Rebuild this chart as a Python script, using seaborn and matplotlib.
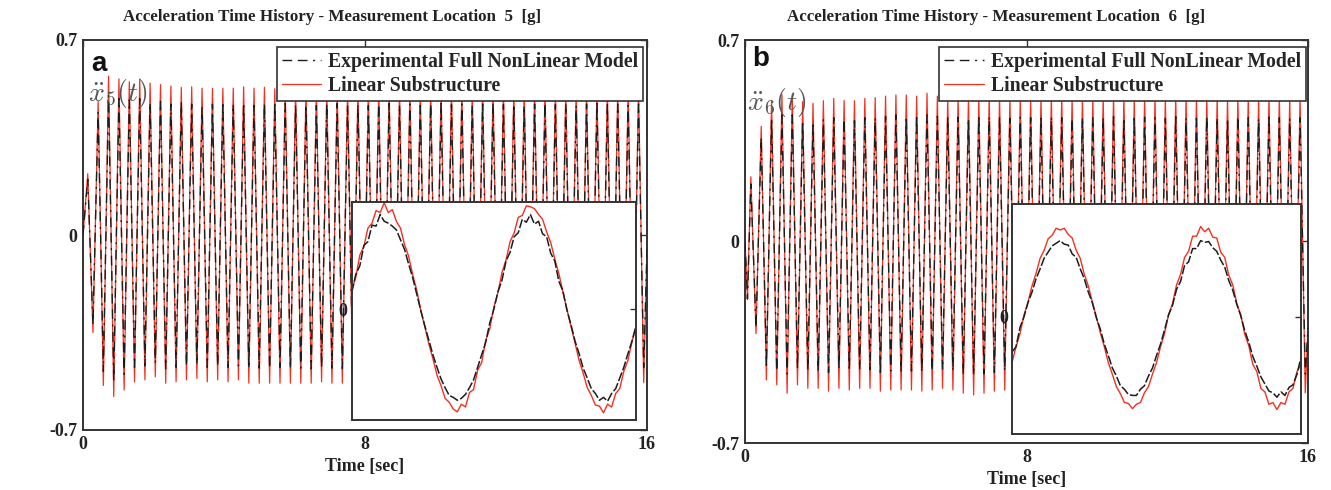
import numpy as np
import matplotlib
matplotlib.use("Agg")
import matplotlib.pyplot as plt
from matplotlib.lines import Line2D
import seaborn as sns

# ---------------- data ----------------
time_ticks = [0, 8, 16]
y_ticks = [-0.7, 0, 0.7]
legend_labels = ["Experimental Full NonLinear Model", "Linear Substructure"]
titles = ["Acceleration Time History - Measurement Location  5  [g]",
          "Acceleration Time History - Measurement Location  6  [g]"]

# panel a: time of first extremum, half period (s)
first_ext_a = 0.135
half_period_a = 0.1474
red_pk_a = [0.22, 0.48, 0.57, 0.56, 0.55, 0.56, 0.545, 0.54, 0.535, 0.53,
            0.532, 0.527, 0.527, 0.527, 0.527, 0.532, 0.527, 0.53, 0.525, 0.53,
            0.527, 0.53, 0.525, 0.528, 0.53, 0.526, 0.53, 0.527, 0.53, 0.528,
            0.525, 0.53, 0.527, 0.53, 0.526, 0.53, 0.528, 0.525, 0.53, 0.527,
            0.53, 0.526, 0.53, 0.528, 0.527, 0.53, 0.526, 0.53, 0.528, 0.525,
            0.53, 0.527, 0.53, 0.528]
red_tr_a = [-0.35, -0.54, -0.58, -0.556, -0.527, -0.52, -0.509, -0.532, -0.527, -0.52,
            -0.515, -0.527, -0.52, -0.527, -0.52, -0.532, -0.532, -0.532, -0.532, -0.532,
            -0.532, -0.532, -0.527, -0.532, -0.532, -0.53, -0.528, -0.532, -0.53, -0.527,
            -0.532, -0.53, -0.528, -0.532, -0.53, -0.527, -0.532, -0.53, -0.528, -0.532,
            -0.53, -0.527, -0.532, -0.53, -0.528, -0.532, -0.53, -0.527, -0.532, -0.53,
            -0.528, -0.532, -0.53, -0.53]
blk_pk_a = [0.20, 0.44, 0.50, 0.49, 0.485, 0.49, 0.475, 0.48, 0.47, 0.475,
            0.47, 0.465, 0.47, 0.468, 0.47, 0.475, 0.465, 0.47, 0.468, 0.472,
            0.47, 0.468, 0.465, 0.47, 0.472, 0.468, 0.47, 0.465, 0.47, 0.472,
            0.468, 0.47, 0.465, 0.47, 0.472, 0.468, 0.47, 0.465, 0.47, 0.472,
            0.468, 0.47, 0.465, 0.47, 0.472, 0.468, 0.47, 0.465, 0.47, 0.472,
            0.468, 0.47, 0.465, 0.47]
blk_tr_a = [-0.32, -0.49, -0.52, -0.5, -0.475, -0.47, -0.46, -0.48, -0.475, -0.47,
            -0.465, -0.475, -0.47, -0.475, -0.47, -0.48, -0.478, -0.48, -0.475, -0.48,
            -0.478, -0.48, -0.475, -0.478, -0.48, -0.476, -0.475, -0.48, -0.478, -0.475,
            -0.48, -0.478, -0.475, -0.48, -0.478, -0.475, -0.48, -0.478, -0.475, -0.48,
            -0.478, -0.475, -0.48, -0.478, -0.475, -0.48, -0.478, -0.475, -0.48, -0.478,
            -0.475, -0.48, -0.478, -0.476]
lead_t_a, lead_y_a = [0.0], [0.0]
tail_t_a, tail_y_a = [16.0], [-0.05]

# panel b
first_ext_b = 0.166
half_period_b = 0.14725
red_pk_b = [0.225, 0.40, 0.49, 0.51, 0.51, 0.486, 0.48, 0.489, 0.497, 0.49,
            0.489, 0.497, 0.50, 0.505, 0.509, 0.509, 0.505, 0.515, 0.505, 0.50,
            0.505, 0.502, 0.50, 0.505, 0.503, 0.50, 0.505, 0.502, 0.50, 0.505,
            0.503, 0.50, 0.505, 0.502, 0.50, 0.505, 0.503, 0.50, 0.505, 0.502,
            0.50, 0.505, 0.503, 0.50, 0.505, 0.502, 0.50, 0.505, 0.503, 0.50,
            0.505, 0.502, 0.50, 0.505]
red_tr_b = [-0.32, -0.481, -0.498, -0.527, -0.498, -0.51, -0.51, -0.52, -0.51, -0.516,
            -0.51, -0.51, -0.52, -0.516, -0.516, -0.516, -0.52, -0.516, -0.51, -0.516,
            -0.527, -0.533, -0.527, -0.52, -0.516, -0.52, -0.518, -0.515, -0.52, -0.518,
            -0.515, -0.52, -0.518, -0.515, -0.52, -0.518, -0.515, -0.52, -0.518, -0.515,
            -0.52, -0.518, -0.515, -0.52, -0.518, -0.515, -0.52, -0.518, -0.515, -0.52,
            -0.518, -0.515, -0.52, -0.526]
blk_pk_b = [0.20, 0.36, 0.43, 0.44, 0.44, 0.42, 0.415, 0.425, 0.43, 0.425,
            0.42, 0.43, 0.43, 0.435, 0.44, 0.435, 0.43, 0.44, 0.435, 0.43,
            0.432, 0.428, 0.43, 0.434, 0.43, 0.428, 0.432, 0.43, 0.428, 0.434,
            0.43, 0.428, 0.432, 0.43, 0.428, 0.434, 0.43, 0.428, 0.432, 0.43,
            0.428, 0.434, 0.43, 0.428, 0.432, 0.43, 0.428, 0.434, 0.43, 0.428,
            0.432, 0.43, 0.428, 0.43]
blk_tr_b = [-0.30, -0.43, -0.45, -0.46, -0.44, -0.445, -0.45, -0.455, -0.445, -0.45,
            -0.445, -0.445, -0.455, -0.45, -0.45, -0.45, -0.455, -0.45, -0.445, -0.45,
            -0.46, -0.465, -0.46, -0.455, -0.45, -0.455, -0.452, -0.45, -0.455, -0.452,
            -0.45, -0.455, -0.452, -0.45, -0.455, -0.452, -0.45, -0.455, -0.452, -0.45,
            -0.455, -0.452, -0.45, -0.455, -0.452, -0.45, -0.455, -0.452, -0.45, -0.455,
            -0.452, -0.45, -0.455, -0.46]
lead_t_b, lead_y_b = [0.0, 0.07], [0.0, -0.2]
tail_t_b, tail_y_b = [16.0], [-0.3]

# insets (zoomed window, two cycles)
inset_red_a = [0.10, 0.165, 0.28, 0.325, 0.42, 0.445, 0.51, 0.50, 0.55, 0.50,
               0.515, 0.455, 0.42, 0.335, 0.275, 0.18, 0.10, -0.005, -0.09, -0.18,
               -0.255, -0.34, -0.395, -0.46, -0.48, -0.515, -0.53, -0.49, -0.505, -0.43,
               -0.415, -0.315, -0.275, -0.16, -0.10, 0.01, 0.085, 0.19, 0.255, 0.35,
               0.395, 0.475, 0.485, 0.535, 0.53, 0.52, 0.49, 0.465, 0.40, 0.345,
               0.26, 0.185, 0.09, 0.0, -0.09, -0.175, -0.265, -0.33, -0.405, -0.445,
               -0.495, -0.50, -0.535, -0.49, -0.505, -0.435, -0.41, -0.32, -0.265, -0.17,
               -0.09]
inset_blk_a = [0.085, 0.18, 0.225, 0.33, 0.35, 0.435, 0.43, 0.49, 0.455, 0.445,
               0.43, 0.41, 0.36, 0.31, 0.235, 0.165, 0.08, -0.005, -0.085, -0.16,
               -0.235, -0.30, -0.36, -0.405, -0.445, -0.455, -0.47, -0.46, -0.44, -0.405,
               -0.365, -0.30, -0.235, -0.17, -0.07, 0.0, 0.09, 0.15, 0.25, 0.295,
               0.375, 0.395, 0.465, 0.45, 0.49, 0.44, 0.455, 0.39, 0.375, 0.29,
               0.25, 0.145, 0.095, -0.005, -0.08, -0.165, -0.23, -0.305, -0.355, -0.41,
               -0.435, -0.47, -0.455, -0.475, -0.435, -0.41, -0.355, -0.30, -0.23, -0.165,
               -0.085]
inset_ylim_a = (-0.572, 0.556)

inset_red_b = [-0.26, -0.17, -0.095, 0.01, 0.085, 0.175, 0.245, 0.33, 0.375, 0.44,
               0.46, 0.50, 0.49, 0.50, 0.465, 0.445, 0.375, 0.33, 0.24, 0.175,
               0.085, 0.0, -0.09, -0.17, -0.26, -0.325, -0.395, -0.435, -0.485, -0.49,
               -0.52, -0.495, -0.485, -0.43, -0.395, -0.325, -0.26, -0.17, -0.095, 0.01,
               0.075, 0.18, 0.24, 0.335, 0.37, 0.455, 0.455, 0.51, 0.48, 0.50,
               0.45, 0.445, 0.365, 0.335, 0.235, 0.18, 0.075, 0.01, -0.1, -0.165,
               -0.27, -0.31, -0.405, -0.425, -0.495, -0.485, -0.525, -0.485, -0.495, -0.425,
               -0.405, -0.31, -0.27]
inset_blk_b = [-0.20, -0.17, -0.06, 0.0, 0.08, 0.14, 0.215, 0.27, 0.33, 0.365,
               0.40, 0.415, 0.43, 0.41, 0.405, 0.355, 0.335, 0.27, 0.215, 0.14,
               0.08, -0.005, -0.07, -0.155, -0.22, -0.29, -0.335, -0.39, -0.41, -0.44,
               -0.445, -0.445, -0.41, -0.39, -0.335, -0.29, -0.22, -0.155, -0.075, 0.01,
               0.065, 0.155, 0.2, 0.29, 0.31, 0.385, 0.385, 0.43, 0.42, 0.425,
               0.39, 0.37, 0.32, 0.28, 0.205, 0.15, 0.07, 0.005, -0.08, -0.145,
               -0.225, -0.28, -0.34, -0.38, -0.42, -0.43, -0.455, -0.425, -0.445, -0.40,
               -0.385, -0.325, -0.23]
inset_ylim_b = (-0.663, 0.637)

# ---------------- styling ----------------
sns.set_theme(style="white")
plt.rcParams["font.family"] = ["Liberation Serif", "DejaVu Serif"]
plt.rcParams["mathtext.fontset"] = "cm"

RED = "#f4301f"
BLK = "#1c1c1c"
EDGE = "#333333"
black_ls = (0, (7, 4, 7, 4, 1.5, 4))

fig = plt.figure(figsize=(13.31, 4.9), dpi=100)
W, H = 1331.0, 490.0


def rect(x0, y0, x1, y1):
    return [x0 / W, 1 - y1 / H, (x1 - x0) / W, (y1 - y0) / H]


def build(first, half, pk, tr, lead_t, lead_y, tail_t, tail_y):
    n = len(pk) + len(tr)
    ext = np.empty(n)
    ext[0::2] = pk
    ext[1::2] = tr
    t = first + half * np.arange(n)
    return (np.concatenate([lead_t, t, tail_t]),
            np.concatenate([lead_y, ext, tail_y]))


def style_spines(ax, lw=1.4):
    for s in ax.spines.values():
        s.set_visible(True)
        s.set_color(EDGE)
        s.set_linewidth(lw)


def panel(ax_rect, in_rect, t, red, blk, in_red, in_blk, in_ylim, letter,
          ylab, ylab_xy, letter_xy, leg_anchor):
    ax = fig.add_axes(ax_rect)
    sns.lineplot(x=t, y=red, ax=ax, color=RED, linewidth=0.9,
                 estimator=None, sort=False, zorder=2)
    sns.lineplot(x=t, y=blk, ax=ax, color=BLK, linewidth=1.0, linestyle=black_ls,
                 estimator=None, sort=False, zorder=3)
    ax.set_xlim(0, 16)
    ax.set_ylim(-0.7, 0.7)
    ax.set_xticks(time_ticks)
    ax.set_xticklabels([str(v) for v in time_ticks], fontweight="bold")
    ax.set_yticks(y_ticks)
    ax.set_yticklabels(["-0.7", "0", "0.7"], fontweight="bold")
    ax.tick_params(direction="in", top=True, right=True, length=5, width=1.0,
                   color=EDGE, labelsize=13, labelcolor="#222222", pad=4)
    ax.set_xlabel("Time [sec]", fontsize=13, fontweight="bold", color="#222222",
                  labelpad=4)
    ax.set_ylabel("")
    style_spines(ax)
    ax.text(letter_xy[0], letter_xy[1], letter, transform=ax.transAxes,
            family="Liberation Sans", fontweight="bold", fontsize=20,
            va="top", ha="left", color="#111111")
    ax.text(ylab_xy[0], ylab_xy[1], ylab, transform=ax.transAxes, fontsize=20,
            color="#555555", va="center", ha="left")
    handles = [Line2D([], [], color=BLK, lw=1.0, linestyle=black_ls),
               Line2D([], [], color=RED, lw=0.9)]
    leg = ax.legend(handles, legend_labels, loc="upper right",
                    bbox_to_anchor=leg_anchor, borderaxespad=0, frameon=True,
                    fancybox=False, framealpha=1, edgecolor=EDGE,
                    prop=dict(weight="bold", size=14.2), handlelength=2.0,
                    handletextpad=0.35, borderpad=0.25, labelspacing=0.2)
    leg.get_frame().set_linewidth(1.2)

    axi = fig.add_axes(in_rect)
    axi.set_facecolor("white")
    xi = np.arange(len(in_red))
    sns.lineplot(x=xi, y=in_red, ax=axi, color=RED, linewidth=1.0,
                 estimator=None, sort=False)
    sns.lineplot(x=xi, y=in_blk, ax=axi, color=BLK, linewidth=1.1,
                 linestyle=(0, (6, 1.5)), estimator=None, sort=False)
    axi.set_xlim(0, len(in_red) - 1)
    axi.set_ylim(*in_ylim)
    axi.set_xticks([])
    axi.set_yticks([0])
    axi.set_yticklabels(["0"], fontweight="bold")
    axi.tick_params(direction="in", right=True, length=4, width=1.0, color=EDGE,
                    labelsize=13, labelcolor="#222222", pad=3)
    axi.set_xlabel("")
    axi.set_ylabel("")
    style_spines(axi)
    return ax


ta, ra = build(first_ext_a, half_period_a, red_pk_a, red_tr_a,
               lead_t_a, lead_y_a, tail_t_a, tail_y_a)
_, ba = build(first_ext_a, half_period_a, blk_pk_a, blk_tr_a,
              lead_t_a, lead_y_a, tail_t_a, tail_y_a)
tb, rb = build(first_ext_b, half_period_b, red_pk_b, red_tr_b,
               lead_t_b, lead_y_b, tail_t_b, tail_y_b)
_, bb = build(first_ext_b, half_period_b, blk_pk_b, blk_tr_b,
              lead_t_b, lead_y_b, tail_t_b, tail_y_b)

panel(rect(83, 40, 647, 430), rect(351.7, 201.7, 636, 420), ta, ra, ba,
      inset_red_a, inset_blk_a, inset_ylim_a, "a", r"$\ddot{x}_5(t)$",
      (0.008, 0.862), (0.015, 0.972), (0.993, 0.982))
panel(rect(745, 40, 1308, 443), rect(1012, 204, 1301, 434), tb, rb, bb,
      inset_red_b, inset_blk_b, inset_ylim_b, "b", r"$\ddot{x}_6(t)$",
      (0.004, 0.845), (0.012, 0.985), (0.996, 0.983))

fig.text(332 / W, 1 - 17 / H, titles[0], ha="center", va="center",
         fontweight="bold", fontsize=12.2, color="#222222")
fig.text(996 / W, 1 - 17 / H, titles[1], ha="center", va="center",
         fontweight="bold", fontsize=12.2, color="#222222")

fig.savefig("out.png", dpi=100, facecolor="white")
